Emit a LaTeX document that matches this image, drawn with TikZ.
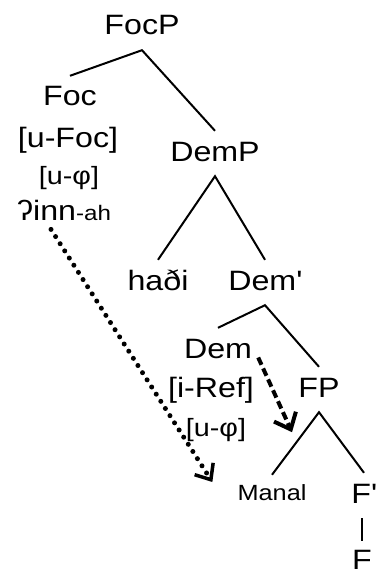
\documentclass[tikz,border=0pt]{standalone}
\usepackage{fontspec}
\setmainfont{Liberation Sans}[FakeStretch=1.15]
\usetikzlibrary{arrows.meta}
\newcommand{\bigsz}{\fontsize{28}{30}\selectfont}
\newcommand{\midsz}{\fontsize{25}{27}\selectfont}
\newcommand{\smallsz}{\fontsize{21}{23}\selectfont}

\begin{document}
\begin{tikzpicture}[x=1pt,y=-1pt,
    cat/.style={anchor=base,font=\bigsz,text height=22pt,text depth=7pt,inner xsep=2pt,inner ysep=8pt},
    feat/.style={anchor=base,font=\bigsz,inner sep=1pt},
    branch/.style={line width=2pt},
    movedot/.style={line width=5pt,line cap=round,dash pattern=on 0pt off 8.5pt,
      -{Straight Barb[length=13pt,width=22pt,line width=3.5pt,line cap=butt]}},
    movedash/.style={line width=4pt,dash pattern=on 8pt off 4pt,
      -{Straight Barb[length=14pt,width=24pt,line width=4pt]}}]
    \useasboundingbox (0,0) rectangle (378,575);
    % categories
    \node[cat] (focp) at (142,35) {FocP};
    \node[cat] (foc) at (70,106) {Foc};
    \node[cat] (demp) at (215,161) {DemP};
    \node[cat] (hadi) at (158,290) {haði};
    \node[cat] (demb) at (265,290) {Dem\textquotesingle};
    \node[cat] (dem) at (218,358) {Dem};
    \node[cat] (fp) at (319,397) {FP};
    \node[cat,font=\fontsize{22}{24}\selectfont,text height=17pt] (manal) at (272,500) {Manal};
    \node[cat,inner xsep=0pt] (fbar) at (364,503) {F\textquotesingle};
    \node[cat,inner xsep=0pt,text depth=0pt,inner ysep=2pt] (f) at (362,569) {F};
    % features
    \node[feat] (ufoc) at (68,147) {[u-Foc]};
    \node[feat,font=\midsz] (uphia) at (69,184) {[u-φ]};
    \node[feat] (inn) at (64,220) {ʔinn{\smallsz -ah}};
    \node[feat] (iref) at (211,397) {[i-Ref]};
    \node[feat,font=\midsz] (uphib) at (216,436) {[u-φ]};
    % branches
    \draw[branch] (foc.north) -- (focp.south) -- (demp.north);
    \draw[branch] (hadi.north) -- (demp.south) -- (demb.north);
    \draw[branch] (dem.north) -- (demb.south) -- (fp.north);
    \draw[branch] (manal.north) -- (fp.south) -- (fbar.north);
    \draw[branch] (f.north |- fbar.south) -- ([yshift=4pt]f.north);
    % movement
    \draw[movedot] ([shift={(-13,8)}]inn.south) -- ([shift={(-23,-13)}]manal.west);
    \draw[movedash] ([shift={(4,7)}]dem.east) -- ([shift={(-27,20)}]fp.south);
\end{tikzpicture}
\end{document}
